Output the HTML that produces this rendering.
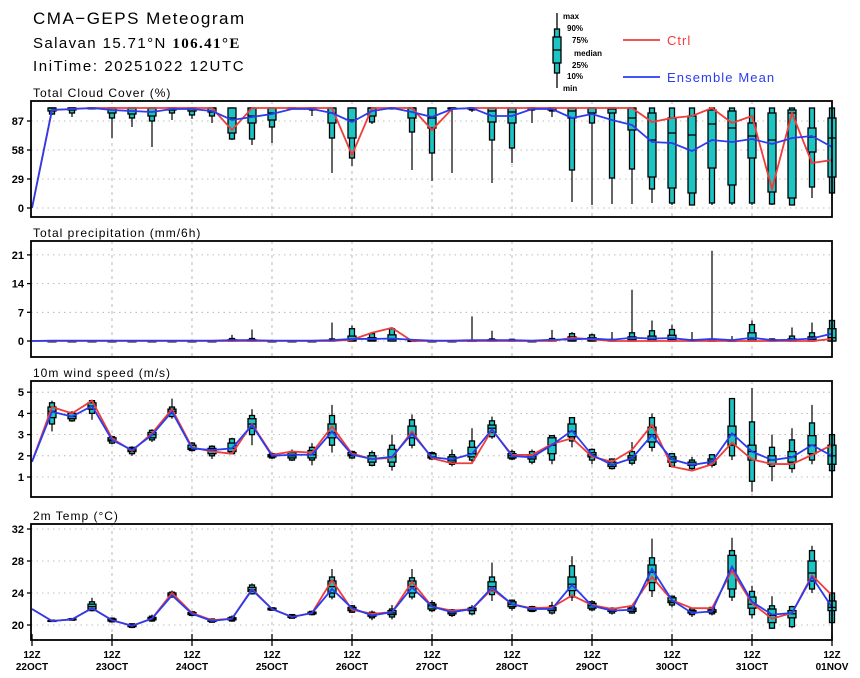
<!DOCTYPE html>
<html><head><meta charset="utf-8"><style>
body{margin:0;background:#fff;}
svg{display:block;font-family:"Liberation Sans",sans-serif;}
</style></head><body>
<svg id="chart" width="860" height="678" viewBox="0 0 860 678" xmlns="http://www.w3.org/2000/svg">
<text x="33" y="24" font-size="17" letter-spacing="1.5">CMA−GEPS Meteogram</text>
<text x="33" y="48" font-size="15" letter-spacing="1.4">Salavan 15.71°N <tspan font-family="Liberation Serif" font-weight="bold">106.41°E</tspan></text>
<text x="33" y="71" font-size="15" letter-spacing="1.6">IniTime: 20251022 12UTC</text>
<g>
<line x1="557" y1="13" x2="557" y2="88" stroke="#000" stroke-width="1.3"/>
<rect x="554.5" y="29" width="5" height="44" fill="#1cc4c4" stroke="#000" stroke-width="1.3"/>
<rect x="553" y="37" width="8" height="26" fill="#1cc4c4" stroke="#000" stroke-width="1.3"/>
<line x1="553" y1="50" x2="561" y2="50" stroke="#000" stroke-width="1.3"/>
<g font-size="8" font-weight="bold">
<text x="563" y="19">max</text><text x="567" y="31">90%</text><text x="572" y="43">75%</text>
<text x="574" y="56">median</text><text x="572" y="68">25%</text><text x="567" y="79">10%</text><text x="563" y="91">min</text>
</g>
<line x1="623" y1="40" x2="660" y2="40" stroke="#f03c3c" stroke-width="1.8"/>
<text x="667" y="45" font-size="13" letter-spacing="1" fill="#f03c3c">Ctrl</text>
<line x1="623" y1="77" x2="660" y2="77" stroke="#2a3cf0" stroke-width="1.8"/>
<text x="667" y="82" font-size="13" letter-spacing="1.1" fill="#2a3cf0">Ensemble Mean</text>
</g>
</svg>
<script>
const N = 41;
const dayLabels = ["22OCT","23OCT","24OCT","25OCT","26OCT","27OCT","28OCT","29OCT","30OCT","31OCT","01NOV"];

// Cloud cover (%)
const cloudCtrl = [0,98,99,100,100,100,100,100,100,100,78,100,100,100,100,100,53,100,100,100,78,99,100,100,100,100,100,100,100,100,100,86,90,92,100,85,92,19,95,45,48];
const cloudMean = [0,98,99,100,98,97,96,99,99,97,88,91,94,99,99,95,86,97,100,96,91,99,100,92,92,99,99,90,94,88,83,66,65,57,68,66,69,64,70,72,61];
const cloudMin = [null,93,91,99,70,81,61,88,89,85,68,63,65,99,92,35,42,84,99,38,27,35,96,25,45,85,91,6,3,4,4,5,3,3,3,3,3,3,3,10,8];
const cloudP10 = [null,94,95,100,90,90,87,95,93,92,69,69,81,100,98,70,50,86,100,76,55,99,98,68,60,98,97,38,85,30,39,19,5,3,5,5,5,4,3,21,15];
const cloudP25 = [null,97,98,100,95,94,92,98,97,96,75,85,88,100,99,85,70,92,100,90,80,100,99,86,85,99,98,90,95,95,78,31,20,15,40,23,50,16,10,56,31];
const cloudMed = [null,100,100,100,100,100,100,100,100,100,90,92,95,100,100,95,88,100,100,100,90,100,100,97,96,100,100,97,100,99,90,68,75,73,84,80,72,68,95,71,70];
const cloudP75 = [null,100,100,100,100,100,100,100,100,100,100,100,100,100,100,100,100,100,100,100,100,100,100,100,100,100,100,100,100,100,100,95,90,92,98,97,85,95,98,80,90];
const cloudP90 = [null,100,100,100,100,100,100,100,100,100,100,100,100,100,100,100,100,100,100,100,100,100,100,100,100,100,100,100,100,100,100,100,100,100,100,100,100,100,100,100,100];
const cloudMax = [null,100,100,100,100,100,100,100,100,100,100,100,100,100,100,100,100,100,100,100,100,100,100,100,100,100,100,100,100,100,100,100,100,100,100,100,100,100,100,100,100];
const cloudTicks = [0,29,58,87];

// Precipitation (mm/6h)
const precCtrl = [0,0,0,0,0,0,0,0,0,0,0,0,0,0,0,0,0.3,2.0,3.2,0,0,0,0,0,0,0,0,0.8,0.4,0,0,0,0,0,0,0,0,0,0,0,0.5];
const precMean = [0,0.1,0.1,0.1,0.1,0.1,0.1,0.1,0.1,0.1,0.2,0.2,0.1,0.1,0.1,0.2,0.5,0.5,0.6,0.3,0.1,0.1,0.2,0.2,0.2,0.1,0.3,0.4,0.6,0.3,0.8,0.6,0.7,0.2,0.5,0.2,0.8,0.2,0.3,0.6,1.8];
const precMin = [null,0,0,0,0,0,0,0,0,0,0,0,0,0,0,0,0,0,0,0,0,0,0,0,0,0,0,0,0,0,0,0,0,0,0,0,0,0,0,0,0];
const precP10 = [null,0,0,0,0,0,0,0,0,0,0,0,0,0,0,0,0,0,0,0,0,0,0,0,0,0,0,0,0,0,0,0,0,0,0,0,0,0,0,0,0];
const precP25 = [null,0,0,0,0,0,0,0,0,0,0,0,0,0,0,0,0,0,0,0,0,0,0,0,0,0,0,0,0,0,0,0,0,0,0,0,0,0,0,0,0];
const precMed = [null,0,0,0,0,0,0,0,0,0,0.1,0.1,0,0,0,0.1,0.3,0.3,0.4,0,0,0,0,0.1,0.1,0,0.1,0.3,0.3,0.1,0.3,0.4,0.4,0.1,0.1,0,0.5,0.1,0.2,0.4,0.8];
const precP75 = [null,0,0,0,0,0,0,0,0,0,0.3,0.3,0,0,0,0.2,1.2,0.8,1.5,0.1,0,0,0.1,0.3,0.2,0,0.3,1.0,0.8,0.2,1.0,1.2,1.4,0.2,0.2,0.1,2.0,0.3,0.5,1.0,3.0];
const precP90 = [null,0,0,0,0,0,0,0,0,0,0.6,0.6,0,0,0,0.5,3.0,1.8,3.0,0.3,0,0,0.2,0.5,0.4,0,0.6,1.8,1.5,0.4,2.0,2.5,2.8,0.3,0.4,0.2,4.0,0.5,1.2,2.0,5.0];
const precMax = [null,0.1,0.1,0.1,0.1,0.1,0.1,0.1,0.1,0.1,1.5,2.8,0.1,0.1,0.1,4.5,3.8,2.0,3.0,0.5,0.2,0.3,6.0,2.5,0.6,0.2,2.7,2.2,1.8,2.2,12.5,5.0,4.0,2.2,22,1.2,5.0,0.6,3.3,4.5,5.0];
const precTicks = [0,7,14,21];

// 10m wind speed (m/s)
const windCtrl = [1.72,4.3,4.0,4.6,2.83,2.23,3.06,4.2,2.4,2.2,2.1,3.5,2.05,2.2,2.15,3.38,2.1,1.85,1.9,3.15,1.88,1.65,1.65,3.22,2.04,2.04,2.56,2.83,1.96,1.72,2.28,3.46,1.49,1.3,1.6,2.62,1.83,1.61,1.61,2.04,2.51];
const windMean = [1.72,4.08,3.85,4.35,2.75,2.27,2.98,4.08,2.35,2.27,2.35,3.45,2.0,2.05,2.05,3.15,2.05,1.85,1.95,3.05,1.93,1.83,2.09,3.25,1.99,1.93,2.51,3.19,2.04,1.57,1.88,2.98,1.83,1.57,1.72,3.06,2.2,1.8,1.93,2.51,1.99];
const windMin = [null,3.15,3.6,3.7,2.55,2.0,2.65,3.75,2.2,1.85,2.1,2.5,1.85,1.75,1.55,2.15,1.85,1.5,1.3,2.35,1.8,1.5,1.7,2.8,1.8,1.6,1.6,2.4,1.6,1.35,1.55,2.2,1.45,1.3,1.45,1.8,0.3,0.8,1.2,1.6,1.2];
const windP10 = [null,3.5,3.65,4.0,2.6,2.1,2.75,3.85,2.25,2.0,2.1,3.0,1.9,1.8,1.8,2.5,1.9,1.55,1.5,2.5,1.85,1.6,1.8,2.9,1.85,1.7,1.8,2.7,1.8,1.4,1.65,2.4,1.5,1.4,1.55,2.0,0.8,1.5,1.4,1.8,1.3];
const windP25 = [null,3.8,3.75,4.2,2.7,2.2,2.85,4.0,2.3,2.1,2.2,3.3,1.95,1.9,1.9,2.85,2.0,1.7,1.7,2.85,1.9,1.7,1.95,3.1,1.9,1.85,2.1,2.9,1.95,1.5,1.8,2.65,1.7,1.55,1.6,2.5,1.8,1.6,1.7,2.1,1.6];
const windMed = [null,4.1,3.85,4.35,2.75,2.27,3.0,4.1,2.35,2.25,2.35,3.5,2.0,2.0,2.05,3.1,2.05,1.85,1.95,3.0,1.95,1.8,2.1,3.3,2.0,1.95,2.5,3.15,2.05,1.6,1.9,3.0,1.85,1.6,1.75,3.0,2.2,1.8,1.95,2.5,2.0];
const windP75 = [null,4.3,4.0,4.5,2.85,2.35,3.1,4.2,2.5,2.35,2.6,3.75,2.05,2.15,2.25,3.5,2.15,2.0,2.3,3.4,2.1,1.95,2.4,3.45,2.1,2.05,2.85,3.5,2.15,1.7,2.0,3.35,1.95,1.7,1.85,3.4,2.5,2.0,2.2,2.95,2.5];
const windP90 = [null,4.5,4.05,4.6,2.9,2.4,3.2,4.3,2.6,2.45,2.8,3.9,2.1,2.2,2.4,3.9,2.2,2.15,2.5,3.7,2.15,2.05,2.7,3.65,2.2,2.2,2.95,3.8,2.3,1.85,2.2,3.8,2.1,1.8,2.05,4.7,3.6,2.4,2.75,3.55,3.0];
const windMax = [null,4.6,4.1,4.65,2.95,2.45,3.25,4.7,2.65,2.5,2.85,4.2,2.15,2.3,2.6,4.4,2.25,2.25,3.0,3.95,2.2,2.3,3.3,3.85,2.3,2.3,2.95,3.8,2.35,1.85,2.65,4.0,2.1,1.95,2.05,4.7,5.2,3.0,3.3,4.4,3.0];
const windTicks = [1,2,3,4,5];

// 2m temperature (°C)
const tempCtrl = [22.0,20.5,20.7,22.1,20.6,19.9,20.8,24.0,21.5,20.6,20.8,24.5,22.0,21.0,21.5,25.6,21.9,21.4,21.6,25.4,22.3,21.8,22.0,24.5,22.6,22.1,22.2,23.7,22.5,22.0,22.4,26.0,23.1,22.1,22.1,26.8,22.7,20.8,21.5,26.2,23.7];
const tempMean = [22.0,20.5,20.7,22.1,20.6,19.9,20.8,23.7,21.4,20.5,20.8,24.4,22.0,21.0,21.5,24.5,22.1,21.2,21.6,24.7,22.3,21.6,22.0,24.7,22.6,22.0,22.0,25.0,22.4,21.8,21.9,27.0,23.1,21.5,21.7,27.3,22.9,21.3,21.5,26.0,22.2];
const tempMin = [null,20.4,20.55,21.7,20.3,19.6,20.4,23.4,21.1,20.3,20.4,23.8,21.8,20.8,21.2,23.2,21.5,20.6,20.7,23.2,21.6,21.0,21.2,23.0,21.8,21.6,21.3,23.0,21.7,21.3,21.4,23.5,22.2,21.0,21.2,23.0,20.8,19.5,19.6,24.0,20.3];
const tempP10 = [null,20.45,20.6,21.8,20.4,19.7,20.5,23.5,21.2,20.35,20.5,23.9,21.85,20.85,21.3,23.5,21.6,20.9,21.0,23.5,21.8,21.2,21.4,23.8,22.1,21.7,21.5,23.5,21.9,21.5,21.5,24.3,22.5,21.3,21.4,23.5,21.3,19.6,19.8,24.5,20.3];
const tempP25 = [null,20.5,20.65,22.0,20.5,19.8,20.65,23.6,21.3,20.45,20.65,24.2,21.9,20.95,21.4,24.0,21.8,21.1,21.3,24.0,22.0,21.4,21.8,24.3,22.3,21.8,21.8,24.3,22.1,21.7,21.7,25.3,22.8,21.5,21.6,24.5,22.1,20.3,20.9,25.5,21.8];
const tempMed = [null,20.5,20.7,22.3,20.6,19.9,20.8,23.8,21.4,20.55,20.8,24.4,22.0,21.1,21.5,24.8,22.0,21.3,21.5,24.8,22.4,21.6,22.0,24.8,22.6,22.0,22.0,25.1,22.4,21.8,21.9,26.6,23.0,21.6,21.7,26.7,22.6,21.2,21.4,26.5,22.2];
const tempP75 = [null,20.55,20.75,22.6,20.75,20.05,20.95,24.0,21.55,20.65,20.9,24.7,22.1,21.2,21.6,25.5,22.2,21.5,21.8,25.5,22.6,21.8,22.1,25.4,22.9,22.2,22.2,26.0,22.7,22.0,22.1,27.5,23.4,21.8,21.9,28.7,23.5,22.0,21.8,28.0,23.0];
const tempP90 = [null,20.6,20.8,22.9,20.85,20.15,21.1,24.1,21.65,20.75,21.0,25.0,22.15,21.3,21.7,26.0,22.4,21.6,22.0,25.9,22.8,21.9,22.2,26.0,23.1,22.3,22.4,27.4,22.9,22.1,22.3,28.4,23.6,22.0,22.2,29.3,24.2,22.4,22.3,29.3,24.0];
const tempMax = [null,20.6,20.85,23.4,20.9,20.2,21.3,24.3,21.7,20.8,21.2,25.2,22.2,21.35,21.8,27.0,22.5,21.8,22.5,27.0,23.1,22.0,22.5,27.8,23.2,22.4,22.9,28.6,23.1,22.2,22.3,30.8,23.6,22.0,22.2,30.9,24.9,23.6,22.4,29.9,24.0];
const tempTicks = [20,24,28,32];

const NS = "http://www.w3.org/2000/svg";
const svg = document.getElementById("chart");
const X0 = 32, X1 = 832, FL = 31, FR = 832;
function xPos(i){ return X0 + (X1 - X0) * i / (N - 1); }
function mk(tag, attrs, parent){
  const e = document.createElementNS(NS, tag);
  for (const k in attrs) e.setAttribute(k, attrs[k]);
  (parent || svg).appendChild(e);
  return e;
}

function panel(cfg){
  const g = mk("g", {});
  
  
  const yPos = v => cfg.y0 - (v - cfg.v0) * cfg.k;
  const t = mk("text", {x: 33, y: cfg.top - 4, "font-size": 12, "letter-spacing": 1}, g);
  t.textContent = cfg.title;
  
  
  cfg.ticks.forEach(v => {
    const y = yPos(v);
    const gl = mk("line", {x1: FL, x2: FR, y1: y, y2: y, stroke: "#aaa", "stroke-width": 0.8, "stroke-dasharray": "1.5,4"}, g);
    
    
    const tk = mk("line", {x1: FL - 4, x2: FL, y1: y, y2: y, stroke: "#000", "stroke-width": 1.3}, g);
    
    
    const lb = mk("text", {x: 24, y: y + 4, "font-size": 11, "font-weight": "bold", "text-anchor": "end"}, g);
    lb.textContent = v;
    
    
  });
  for (let d = 1; d < dayLabels.length - 1; d++){
    const x = xPos(d * 4);
    const vl = mk("line", {x1: x, x2: x, y1: cfg.top, y2: cfg.bottom, stroke: "#aaa", "stroke-width": 0.8, "stroke-dasharray": "3,4"}, g);
    
    
  }
  for (let i = 0; i < N; i++){
    if (cfg.min[i] === null || cfg.min[i] === undefined) continue;
    const x = xPos(i);
    const bg = mk("g", {}, g);
    
    
    mk("line", {x1: x, x2: x, y1: yPos(cfg.max[i]), y2: yPos(cfg.min[i]), stroke: "#000", "stroke-width": 1.2}, bg);
    const a = yPos(cfg.p90[i]), b = yPos(cfg.p10[i]);
    mk("rect", {x: x - 2.5, y: a, width: 5, height: Math.max(b - a, 0.8), fill: "#1cc4c4", stroke: "#000", "stroke-width": 1.3}, bg);
    const c = yPos(cfg.p75[i]), d = yPos(cfg.p25[i]);
    mk("rect", {x: x - 4, y: c, width: 8, height: Math.max(d - c, 0.8), fill: "#1cc4c4", stroke: "#000", "stroke-width": 1.3}, bg);
    const m = yPos(cfg.med[i]);
    mk("line", {x1: x - 4, x2: x + 4, y1: m, y2: m, stroke: "#000", "stroke-width": 1.3}, bg);
  }
  const ptsC = cfg.ctrl.map((v, i) => xPos(i) + "," + yPos(v)).join(" ");
  const lc = mk("polyline", {points: ptsC, fill: "none", stroke: "#f03c3c", "stroke-width": 1.8}, g);
  
  
  const ptsM = cfg.mean.map((v, i) => xPos(i) + "," + yPos(v)).join(" ");
  const lm = mk("polyline", {points: ptsM, fill: "none", stroke: "#2a3cf0", "stroke-width": 1.8}, g);
  
  
  const fr = mk("rect", {x: FL, y: cfg.top, width: FR - FL, height: cfg.bottom - cfg.top, fill: "none", stroke: "#000", "stroke-width": 1.8}, g);
  
  
}

panel({name: "cloud-panel", title: "Total Cloud Cover (%)", top: 101, bottom: 217, y0: 208, v0: 0, k: 1.0, ticks: cloudTicks,
  ctrl: cloudCtrl, mean: cloudMean, min: cloudMin, p10: cloudP10, p25: cloudP25, med: cloudMed, p75: cloudP75, p90: cloudP90, max: cloudMax});
panel({name: "precip-panel", title: "Total precipitation (mm/6h)", top: 241, bottom: 357, y0: 341, v0: 0, k: 4.1, ticks: precTicks,
  ctrl: precCtrl, mean: precMean, min: precMin, p10: precP10, p25: precP25, med: precMed, p75: precP75, p90: precP90, max: precMax});
panel({name: "wind-panel", title: "10m wind speed (m/s)", top: 381, bottom: 497, y0: 477, v0: 1, k: 21.2, ticks: windTicks,
  ctrl: windCtrl, mean: windMean, min: windMin, p10: windP10, p25: windP25, med: windMed, p75: windP75, p90: windP90, max: windMax});
panel({name: "temp-panel", title: "2m Temp (°C)", top: 524, bottom: 640, y0: 625, v0: 20, k: 8.0, ticks: tempTicks,
  ctrl: tempCtrl, mean: tempMean, min: tempMin, p10: tempP10, p25: tempP25, med: tempMed, p75: tempP75, p90: tempP90, max: tempMax});

dayLabels.forEach((lab, d) => {
  const x = xPos(d * 4);
  const tk = mk("line", {x1: x, x2: x, y1: 634, y2: 646, stroke: "#000", "stroke-width": 1.3});
  
  
  const t1 = mk("text", {x: x, y: 658, "font-size": 10, "font-weight": "bold", "text-anchor": "middle"});
  t1.textContent = "12Z";
  
  
  const t2 = mk("text", {x: x, y: 670, "font-size": 10, "font-weight": "bold", "text-anchor": "middle"});
  t2.textContent = lab;
  
  
});
</script>
</body></html>
